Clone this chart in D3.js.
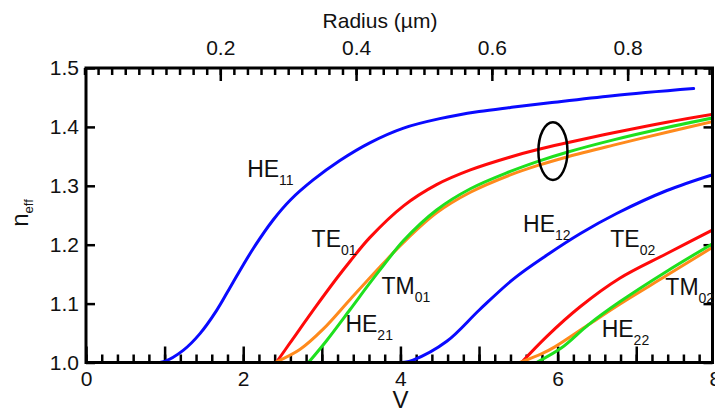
<!DOCTYPE html>
<html>
<head>
<meta charset="utf-8">
<script src="https://cdn.jsdelivr.net/npm/d3@7"></script>
<style>
  body { margin: 0; background: #fff; }
  svg text { font-family: "Liberation Sans", Arial, Helvetica, sans-serif; fill: #111; }
</style>
</head>
<body>
<script>
// effective index curves (V, n_eff)
const he11V = [0.82, 1.0, 1.24, 1.45, 1.66, 1.87, 2.13, 2.38, 2.6, 2.89, 3.23, 3.61, 4.04, 4.5, 5.0, 5.4, 5.9, 6.7, 7.73];
const he11N = [1.0, 1.002, 1.021, 1.049, 1.088, 1.136, 1.194, 1.242, 1.276, 1.31, 1.343, 1.373, 1.398, 1.414, 1.426, 1.433, 1.441, 1.453, 1.465];

const te01V = [2.42, 2.6, 2.93, 3.19, 3.36, 3.61, 4.04, 4.46, 4.89, 5.4, 5.76, 6.12, 6.71, 7.39, 8.0];
const te01N = [1.0, 1.034, 1.096, 1.143, 1.172, 1.212, 1.266, 1.302, 1.327, 1.349, 1.362, 1.373, 1.39, 1.408, 1.422];

const tm01V = [2.405, 2.72, 3.02, 3.36, 3.78, 4.04, 4.46, 4.89, 5.39, 5.76, 6.12, 6.71, 7.39, 8.0];
const tm01N = [1.0, 1.022, 1.057, 1.107, 1.168, 1.204, 1.254, 1.289, 1.318, 1.335, 1.349, 1.369, 1.391, 1.41];

const he21V = [2.83, 3.06, 3.36, 3.6, 3.78, 4.04, 4.46, 4.89, 5.39, 5.76, 6.12, 6.71, 7.39, 8.0];
const he21N = [1.0, 1.037, 1.09, 1.133, 1.164, 1.207, 1.259, 1.295, 1.324, 1.342, 1.357, 1.378, 1.399, 1.416];

const he12V = [3.9, 4.05, 4.16, 4.59, 5.01, 5.44, 5.86, 6.29, 6.75, 7.39, 8.0];
const he12N = [1.0, 1.0005, 1.004, 1.036, 1.09, 1.142, 1.182, 1.219, 1.253, 1.292, 1.32];

const te02V = [5.54, 5.86, 6.29, 6.79, 7.39, 8.0];
const te02N = [1.0, 1.044, 1.095, 1.143, 1.185, 1.227];

const tm02V = [5.52, 5.8, 5.97, 6.39, 6.79, 7.39, 8.0];
const tm02N = [1.0, 1.015, 1.027, 1.064, 1.099, 1.148, 1.198];

const he22V = [5.73, 6.05, 6.39, 6.79, 7.39, 8.0];
const he22N = [1.0, 1.025, 1.064, 1.103, 1.155, 1.204];

// tick labels
const vLabels = [0, 2, 4, 6, 8];
const nTicks = [1.0, 1.1, 1.2, 1.3, 1.4, 1.5];
const rLabels = [0.2, 0.4, 0.6, 0.8];

// mode labels: name, subscript, anchor (V, n_eff)
const labels = [
  ['HE', '11', 2.05, 1.315],
  ['TE', '01', 2.87, 1.196],
  ['TM', '01', 3.76, 1.117],
  ['HE', '21', 3.30, 1.052],
  ['HE', '12', 5.56, 1.222],
  ['TE', '02', 6.67, 1.196],
  ['TM', '02', 7.37, 1.114],
  ['HE', '22', 6.56, 1.044]
];

// ellipse marking the near-degenerate group: center V, center n, half widths
const ringV = 5.94, ringN = 1.359, ringDV = 0.185, ringDN = 0.049;

window.onload = function () {

  const DM = { width: 715, height: 411, left: 86, right: 712.5, top: 68, bottom: 362.5 };
  const FONT = '"Liberation Sans", Arial, Helvetica, sans-serif';
  const BLUE = '#0a0aff', RED = '#ff0a0a', ORANGE = '#ff8a1c', GREEN = '#1ee01e';

  const modes = [
    { v: he11V, n: he11N, color: BLUE },
    { v: he12V, n: he12N, color: BLUE },
    { v: te01V, n: te01N, color: RED },
    { v: te02V, n: te02N, color: RED },
    { v: tm01V, n: tm01N, color: ORANGE },
    { v: tm02V, n: tm02N, color: ORANGE },
    { v: he21V, n: he21N, color: GREEN },
    { v: he22V, n: he22N, color: GREEN }
  ];

  const x = d3.scaleLinear().domain([0, 7.97]).range([DM.left, DM.right]);
  const xr = d3.scaleLinear().domain([0, 0.925]).range([84.5, DM.right]);
  const y = d3.scaleLinear().domain([1.0, 1.5]).range([DM.bottom, DM.top]);

  const SVG = d3.select('body').append('svg')
    .attr('width', DM.width)
    .attr('height', DM.height);

  SVG.append('defs').append('clipPath').attr('id', 'plotclip')
    .append('rect')
    .attr('x', DM.left).attr('y', DM.top)
    .attr('width', DM.right - DM.left).attr('height', DM.bottom - DM.top);

  function tickGroup(axis, transform) {
    const g = SVG.append('g')
      .attr('transform', transform)
      .call(axis)
      .attr('font-family', FONT)
      .attr('font-size', 21);
    g.select('.domain').remove();
    g.selectAll('line').attr('stroke', '#000').attr('stroke-width', 2.5);
    g.selectAll('text').attr('fill', '#111');
    return g;
  }

  // bottom V axis, ticks pointing inward
  tickGroup(d3.axisBottom(x).tickValues(d3.range(0, 7.97, 0.2)).tickSizeInner(-8).tickSizeOuter(0).tickFormat(''),
    `translate(0,${DM.bottom})`);
  tickGroup(d3.axisBottom(x).tickValues(d3.range(0, 8, 1)).tickSizeInner(-16).tickSizeOuter(0).tickFormat(''),
    `translate(0,${DM.bottom})`);
  tickGroup(d3.axisBottom(x).tickValues(vLabels).tickSize(0).tickPadding(9).tickFormat(d3.format('d')),
    `translate(0,${DM.bottom})`);

  // top radius axis
  tickGroup(d3.axisTop(xr).tickValues(d3.range(0, 0.925, 0.02)).tickSizeInner(-7).tickSizeOuter(0).tickFormat(''),
    `translate(0,${DM.top})`);
  tickGroup(d3.axisTop(xr).tickValues(rLabels).tickSizeInner(-13).tickSizeOuter(0).tickFormat(''),
    `translate(0,${DM.top})`);
  tickGroup(d3.axisTop(xr).tickValues(rLabels).tickSize(0).tickPadding(13).tickFormat(d3.format('.1f')),
    `translate(0,${DM.top})`);

  // left and right n_eff axes
  tickGroup(d3.axisLeft(y).tickValues(nTicks).tickSizeInner(-9).tickSizeOuter(0).tickPadding(7).tickFormat(d3.format('.1f')),
    `translate(${DM.left},0)`);
  tickGroup(d3.axisRight(y).tickValues(nTicks).tickSizeInner(-9).tickSizeOuter(0).tickFormat(''),
    `translate(${DM.right},0)`);

  // curves
  const line = d3.line()
    .x(d => x(d[0]))
    .y(d => y(d[1]))
    .curve(d3.curveCatmullRom.alpha(0.5));

  SVG.append('g')
    .attr('clip-path', 'url(#plotclip)')
    .selectAll('path')
    .data(modes)
    .join('path')
    .attr('d', m => line(d3.zip(m.v, m.n)))
    .attr('fill', 'none')
    .attr('stroke', m => m.color)
    .attr('stroke-width', 3)
    .attr('stroke-linecap', 'round');

  // frame
  SVG.append('rect')
    .attr('x', DM.left).attr('y', DM.top)
    .attr('width', DM.right - DM.left).attr('height', DM.bottom - DM.top)
    .attr('fill', 'none')
    .attr('stroke', '#000')
    .attr('stroke-width', 3);

  // ellipse
  SVG.append('ellipse')
    .attr('cx', x(ringV)).attr('cy', y(ringN))
    .attr('rx', x(ringV + ringDV) - x(ringV))
    .attr('ry', y(ringN) - y(ringN + ringDN))
    .attr('fill', 'none')
    .attr('stroke', '#000')
    .attr('stroke-width', 2.5);

  // mode labels
  const lab = SVG.append('g').selectAll('text')
    .data(labels)
    .join('text')
    .attr('x', d => x(d[2]))
    .attr('y', d => y(d[3]))
    .attr('font-size', 23);
  lab.append('tspan').text(d => d[0]);
  lab.append('tspan').attr('dy', 8).attr('font-size', 14).text(d => d[1]);

  // axis titles
  SVG.append('text')
    .attr('x', 380).attr('y', 28)
    .attr('text-anchor', 'middle')
    .attr('font-size', 21)
    .text('Radius (\u00b5m)');

  SVG.append('text')
    .attr('x', x(4)).attr('y', 408)
    .attr('text-anchor', 'middle')
    .attr('font-size', 24)
    .text('V');

  const ny = SVG.append('text')
    .attr('transform', 'translate(28,213) rotate(-90)')
    .attr('text-anchor', 'middle')
    .attr('font-size', 24);
  ny.append('tspan').text('n');
  ny.append('tspan').attr('dy', 5).attr('font-size', 13).text('eff');
}
</script>
</body>
</html>
